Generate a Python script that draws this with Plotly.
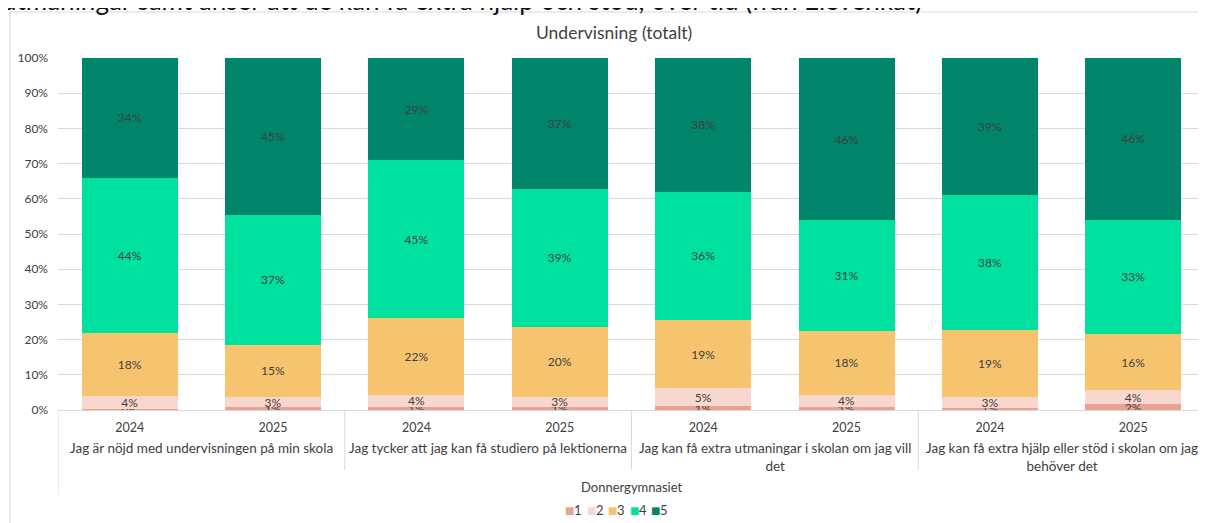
import plotly.graph_objects as go

# ---------------- data ----------------
questions = [
    "Jag är nöjd med undervisningen på min skola",
    "Jag tycker att jag kan få studiero på lektionerna",
    "Jag kan få extra utmaningar i skolan om jag vill<br>det",
    "Jag kan få extra hjälp eller stöd i skolan om jag<br>behöver det",
]
years = ["2024", "2025"]
school = "Donnergymnasiet"
series_names = ["1", "2", "3", "4", "5"]
s1 = [0.3, 0.8, 0.8, 0.8, 1.1, 0.8, 0.7, 1.6]
s2 = [3.8, 2.9, 3.6, 3.0, 5.1, 3.6, 3.1, 4.0]
s3 = [17.9, 14.8, 21.7, 19.7, 19.4, 18.1, 18.8, 15.9]
s4 = [44.0, 36.9, 44.9, 39.4, 36.4, 31.4, 38.4, 32.6]
s5 = [34.0, 44.6, 29.0, 37.1, 38.0, 46.1, 39.0, 45.9]
series = [s1, s2, s3, s4, s5]
colors = ["#E9A393", "#F8D7CE", "#F6C46E", "#00E09F", "#00856A"]
title = "Undervisning (totalt)"
heading = "utmaningar samt anser att de kan få extra hjälp och stöd, över tid (från Elevenkät)"

# ---------------- layout helpers (page pixels) ----------------
OFF = 8                      # default body margin of the html page
W, H = 1206 - OFF, 523 - OFF
PL, PR, PT, PB = 58, 1205, 58, 410   # plot area in page pixels
FONT = "Lato, 'Century Gothic', sans-serif"
TXT = "#404040"
GRID = "#D9D9D9"


def px_x(x):
    return (x - PL) / (PR - PL)


def px_y(y):
    return (PB - y) / (PB - PT)


n_groups = len(questions)
n_years = len(years)
xs = list(range(n_groups * n_years))
tick_text = years * n_groups

fig = go.Figure()
for name, vals, col in zip(series_names, series, colors):
    fig.add_trace(go.Bar(
        x=xs, y=vals, name=name, marker=dict(color=col, line=dict(width=0)),
        texttemplate="%{y:.0f}%", textposition="inside", insidetextanchor="middle",
        textangle=0, textfont=dict(family=FONT, size=12, color=TXT),
        showlegend=False,
    ))

shapes = []
# chart frame
shapes.append(dict(type="rect", xref="paper", yref="paper",
                   x0=px_x(10), x1=px_x(1220), y0=px_y(540), y1=px_y(12),
                   line=dict(color=GRID, width=1), fillcolor="rgba(0,0,0,0)", layer="below"))
# category dividers
for i in range(n_groups + 1):
    xb = i * n_years - 0.5
    outer = i == 0 or i == n_groups
    shapes.append(dict(type="line", xref="x", yref="paper", x0=xb, x1=xb,
                       y0=0, y1=px_y(495 if outer else 470),
                       line=dict(color=GRID, width=1)))

annotations = []
for i, q in enumerate(questions):
    annotations.append(dict(x=i * n_years + (n_years - 1) / 2, y=px_y(438), xref="x", yref="paper",
                            text=q, showarrow=False, yanchor="top", xanchor="center",
                            font=dict(family=FONT, size=13.5, color=TXT)))
annotations.append(dict(x=(len(xs) - 1) / 2, y=px_y(487), xref="x", yref="paper", text=school,
                        showarrow=False, yanchor="middle", font=dict(family=FONT, size=13, color=TXT)))
annotations.append(dict(x=px_x(614), y=px_y(33), xref="paper", yref="paper", text=title,
                        showarrow=False, yanchor="middle", font=dict(family=FONT, size=17.5, color=TXT)))
annotations.append(dict(x=px_x(0), y=px_y(18), xref="paper", yref="paper", text=heading,
                        showarrow=False, xanchor="left", yanchor="bottom",
                        font=dict(family=FONT, size=26, color="#111111")))
# legend (manual, compact)
lx = 563
for name, col in zip(series_names, colors):
    annotations.append(dict(x=px_x(lx), y=px_y(510), xref="paper", yref="paper", text="■",
                            showarrow=False, xanchor="left", yanchor="middle",
                            font=dict(family="DejaVu Sans", size=10, color=col)))
    annotations.append(dict(x=px_x(lx + 9), y=px_y(510), xref="paper", yref="paper", text=name,
                            showarrow=False, xanchor="left", yanchor="middle",
                            font=dict(family=FONT, size=13, color=TXT)))
    lx += 21.5

fig.update_layout(
    width=W, height=H, barmode="stack", bargap=0.33,
    margin=dict(l=PL - OFF, r=W - (PR - OFF), t=PT - OFF, b=H - (PB - OFF), pad=0),
    paper_bgcolor="white", plot_bgcolor="white",
    font=dict(family=FONT, color=TXT),
    uniformtext=dict(minsize=12, mode="show"),
    shapes=shapes, annotations=annotations,
    xaxis=dict(tickmode="array", tickvals=xs, ticktext=tick_text, range=[-0.5, len(xs) - 0.5],
               showgrid=False, showline=True, linecolor=GRID, ticks="", ticklabelstandoff=6,
               tickfont=dict(family=FONT, size=12.5, color=TXT), fixedrange=True),
    yaxis=dict(range=[0, 100], dtick=10, ticksuffix="%", showgrid=True, gridcolor=GRID,
               zeroline=False, showline=False, ticks="", ticklabelstandoff=9,
               tickfont=dict(family=FONT, size=12, color=TXT), fixedrange=True),
)

fig.write_html("out.html")
